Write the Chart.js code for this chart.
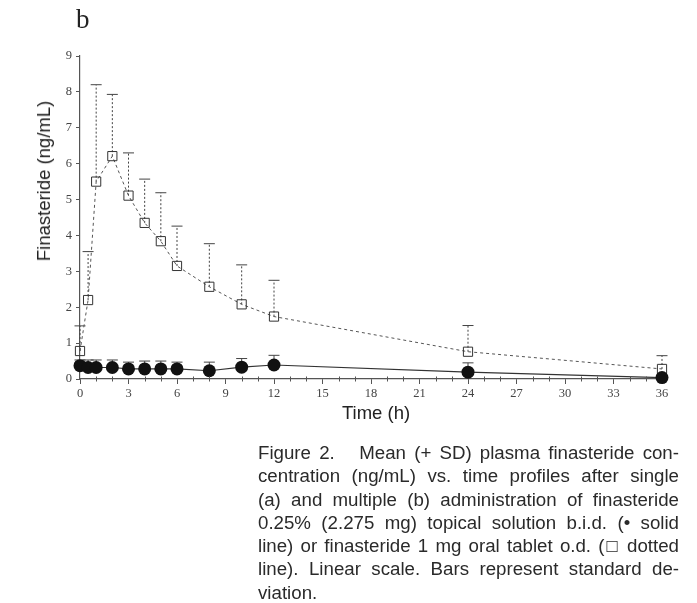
<!DOCTYPE html>
<html>
<head>
<meta charset="utf-8">
<script src="https://cdn.jsdelivr.net/npm/chart.js@4.4.1/dist/chart.umd.min.js"></script>
<style>
  html, body { margin: 0; padding: 0; background: #fff; }
  #wrap { position: relative; width: 697px; height: 603px; }
  #myChart { position: absolute; left: 0; top: 0; }
  .panel { position: absolute; left: 76px; top: 4px; font-family: "Liberation Serif", "DejaVu Serif", serif; font-size: 27px; color: #222; }
  .ytitle { position: absolute; left: 44px; top: 181px; transform: translate(-50%, -50%) rotate(-90deg); white-space: nowrap;
            font-family: "Liberation Sans", Arial, sans-serif; font-size: 18.5px; color: #222; }
  .xtitle { position: absolute; left: 376px; top: 413px; transform: translate(-50%, -50%); white-space: nowrap;
            font-family: "Liberation Sans", Arial, sans-serif; font-size: 18.5px; color: #222; }
  .caption { position: absolute; left: 258px; top: 441px; width: 421px; font-family: "Liberation Sans", Arial, sans-serif;
             font-size: 18.7px; line-height: 23.3px; color: #2a2a2a; }
  .caption div { text-align: justify; text-align-last: justify; white-space: nowrap; }
  .caption div.last { text-align-last: left; }
</style>
</head>
<body>
<div id="wrap">
  <canvas id="myChart" width="697" height="603"></canvas>
  <div class="panel">b</div>
  <div class="ytitle">Finasteride (ng/mL)</div>
  <div class="xtitle">Time (h)</div>
  <div class="caption">
    <div>Figure 2.&nbsp;&nbsp; Mean (+ SD) plasma finasteride con-</div>
    <div>centration (ng/mL) vs. time profiles after single</div>
    <div>(a) and multiple (b) administration of finasteride</div>
    <div>0.25% (2.275 mg) topical solution b.i.d. (&#8226; solid</div>
    <div>line) or finasteride 1 mg oral tablet o.d. (&#9633; dotted</div>
    <div>line). Linear scale. Bars represent standard de-</div>
    <div class="last">viation.</div>
  </div>
</div>
<script>
let ctx = document.getElementById('myChart')

const times = [0, 0.5, 1, 2, 3, 4, 5, 6, 8, 10, 12, 24, 36]
// oral tablet (open squares, dotted line)
const oralMean = [0.78, 2.2, 5.5, 6.21, 5.11, 4.35, 3.84, 3.15, 2.57, 2.08, 1.74, 0.76, 0.28]
const oralSd = [0.70, 1.35, 2.70, 1.72, 1.19, 1.22, 1.35, 1.11, 1.20, 1.10, 1.01, 0.73, 0.37]
// topical solution (filled circles, solid line)
const topicalMean = [0.37, 0.32, 0.32, 0.32, 0.28, 0.28, 0.28, 0.28, 0.23, 0.33, 0.39, 0.19, 0.04]
const topicalSd = [0.16, 0.21, 0.21, 0.21, 0.19, 0.22, 0.22, 0.19, 0.24, 0.24, 0.27, 0.26, 0]
const xTicks = [0, 3, 6, 9, 12, 15, 18, 21, 24, 27, 30, 33, 36]
const yTicks = [0, 1, 2, 3, 4, 5, 6, 7, 8, 9]

const axisColor = '#555'
const tickFont = { family: '"Liberation Serif", "DejaVu Serif", serif', size: 12.5 }

function toPoints(ys) {
  return times.map((t, i) => ({ x: t, y: ys[i] }))
}

// draws the +SD bars from the mean up to mean + sd
const sdBars = {
  id: 'sdBars',
  beforeDatasetsDraw(chart) {
    const c = chart.ctx
    const xs = chart.scales.x
    const ys = chart.scales.y
    chart.data.datasets.forEach(ds => {
      if (!ds.sd) return
      c.save()
      c.strokeStyle = ds.sdColor
      c.lineWidth = 1
      ds.data.forEach((p, i) => {
        if (!ds.sd[i]) return
        const px = xs.getPixelForValue(p.x)
        const py = ys.getPixelForValue(p.y)
        const top = ys.getPixelForValue(p.y + ds.sd[i])
        c.setLineDash(ds.sdDash)
        c.beginPath()
        c.moveTo(px, py)
        c.lineTo(px, top)
        c.stroke()
        c.setLineDash([])
        c.beginPath()
        c.moveTo(px - 5.5, top)
        c.lineTo(px + 5.5, top)
        c.stroke()
      })
      c.restore()
    })
  }
}

// small minor ticks every hour on the time axis
const minorTicks = {
  id: 'minorTicks',
  afterDraw(chart) {
    const c = chart.ctx
    const xs = chart.scales.x
    const y0 = chart.chartArea.bottom
    c.save()
    c.strokeStyle = axisColor
    c.lineWidth = 1
    for (let h = xs.min; h <= xs.max; h++) {
      if (h % 3 === 0) continue
      const px = Math.round(xs.getPixelForValue(h)) + 0.5
      c.beginPath()
      c.moveTo(px, y0 - 2.5)
      c.lineTo(px, y0 + 2.5)
      c.stroke()
    }
    c.restore()
  }
}

let myChart = new Chart(ctx, {
  type: 'scatter',
  data: {
    datasets: [{
      label: 'Finasteride 1 mg oral tablet o.d.',
      data: toPoints(oralMean),
      sd: oralSd,
      sdDash: [2, 2],
      sdColor: '#444',
      showLine: true,
      borderColor: '#555',
      borderWidth: 1,
      borderDash: [3, 3],
      pointStyle: 'rect',
      pointRadius: 6.5,
      pointBorderWidth: 1,
      pointBorderColor: '#333',
      pointBackgroundColor: 'rgba(0,0,0,0)',
      clip: false,
      order: 2
    }, {
      label: 'Finasteride 0.25% topical solution b.i.d.',
      data: toPoints(topicalMean),
      sd: topicalSd,
      sdDash: [],
      sdColor: '#444',
      showLine: true,
      borderColor: '#333',
      borderWidth: 1.2,
      pointStyle: 'circle',
      pointRadius: 6.5,
      pointBorderWidth: 0,
      pointBackgroundColor: '#111',
      clip: false,
      order: 1
    }]
  },
  options: {
    responsive: false,
    animation: false,
    layout: { padding: { left: 0, right: 35, top: 56, bottom: 194 } },
    plugins: {
      legend: { display: false },
      tooltip: { enabled: false }
    },
    scales: {
      x: {
        type: 'linear',
        min: 0,
        max: 36,
        afterBuildTicks: s => { s.ticks = xTicks.map(v => ({ value: v })) },
        afterFit: s => { s.height = 30 },
        ticks: { font: tickFont, color: '#444', padding: 2, maxRotation: 0, autoSkip: false },
        grid: { drawOnChartArea: false, tickLength: 5, tickColor: axisColor },
        border: { color: axisColor, width: 1.2 }
      },
      y: {
        min: 0,
        max: 9,
        afterBuildTicks: s => { s.ticks = yTicks.map(v => ({ value: v })) },
        afterFit: s => { s.width = 80 },
        ticks: { font: tickFont, color: '#444', padding: 4, autoSkip: false },
        grid: { drawOnChartArea: false, tickLength: 4, tickColor: axisColor },
        border: { color: axisColor, width: 1.2 }
      }
    }
  },
  plugins: [sdBars, minorTicks]
})
</script>
</body>
</html>
